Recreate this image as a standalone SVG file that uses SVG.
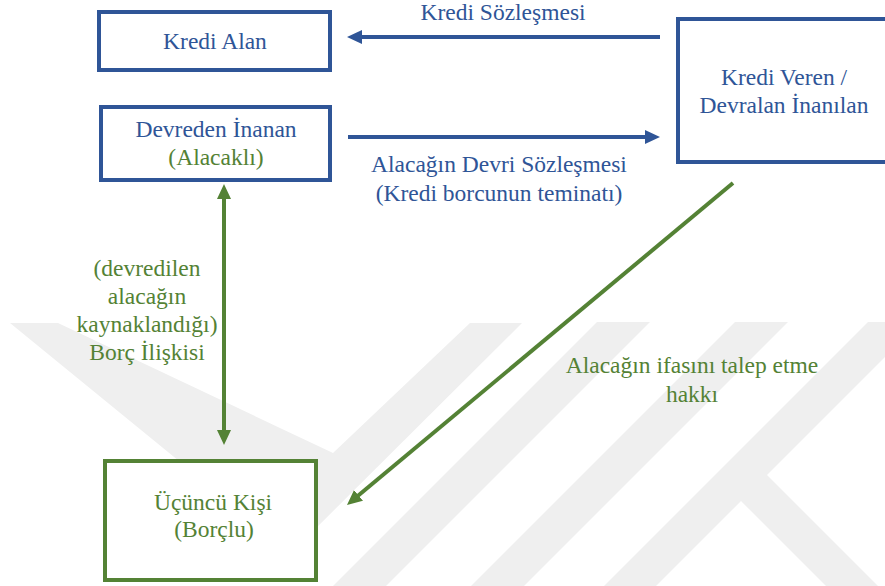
<svg xmlns="http://www.w3.org/2000/svg" width="885" height="586" viewBox="0 0 885 586">
<style>
.wm{fill:#efefef}
.box{fill:#ffffff;stroke-width:4}
.blue{stroke:#2F5597}
.green{stroke:#548235}
text{font-family:'Liberation Serif','Times New Roman','DejaVu Serif',serif;font-size:23.5px;text-anchor:middle}
.tb{fill:#2F5597}
.tg{fill:#548235}
.c{fill:none;stroke-width:4}
</style>
<defs>
<marker id="ab" markerUnits="userSpaceOnUse" markerWidth="16" markerHeight="16" refX="3" refY="7" orient="auto-start-reverse"><path d="M0,0 L15,7 L0,14 z" fill="#2F5597"/></marker>
<marker id="ag" markerUnits="userSpaceOnUse" markerWidth="16" markerHeight="16" refX="3" refY="7" orient="auto-start-reverse"><path d="M0,0 L15,7 L0,14 z" fill="#548235"/></marker>
</defs>
<rect width="885" height="586" fill="#ffffff"/>
<g id="watermark">
<polygon class="wm" points="10,323 58,323 333,453 470,323 522,323 291,553 190,470"/>
<polygon class="wm" points="597,322 650,322 386,586 333,586"/>
<polygon class="wm" points="735,322 788,322 524,586 471,586"/>
<polygon class="wm" points="868,322 885,322 885,357 767,475 885,593 885,586 826,586 741,501 656,586 604,586"/>
</g>
<g id="connectors" font-family="Liberation Serif, serif">
<line class="c blue" x1="660" y1="37" x2="359" y2="37" marker-end="url(#ab)"/>
<line class="c blue" x1="348" y1="137" x2="648" y2="137" marker-end="url(#ab)"/>
<line class="c green" x1="224" y1="196" x2="224" y2="433" marker-start="url(#ag)" marker-end="url(#ag)"/>
<line class="c green" x1="733" y1="183" x2="356.2" y2="497.3" marker-end="url(#ag)"/>
<text class="tb" x="503" y="20">Kredi Sözleşmesi</text>
<text class="tb" x="499" y="172">Alacağın Devri Sözleşmesi</text>
<text class="tb" x="499" y="201">(Kredi borcunun teminatı)</text>
<text class="tg" x="147" y="276">(devredilen</text>
<text class="tg" x="147" y="304">alacağın</text>
<text class="tg" x="147" y="332">kaynaklandığı)</text>
<text class="tg" x="147" y="360">Borç İlişkisi</text>
<text class="tg" x="692" y="373">Alacağın ifasını talep etme</text>
<text class="tg" x="692" y="402">hakkı</text>
</g>
<g id="kredi-alan">
<rect class="box blue" x="99" y="12" width="231" height="58"/>
<text class="tb" x="215" y="49">Kredi Alan</text>
</g>
<g id="devreden-inanan">
<rect class="box blue" x="101" y="107" width="229" height="73"/>
<text class="tb" x="216" y="137">Devreden İnanan</text>
<text class="tg" x="216" y="165">(Alacaklı)</text>
</g>
<g id="kredi-veren">
<rect class="box blue" x="678" y="19" width="215" height="143"/>
<text class="tb" x="784" y="85">Kredi Veren /</text>
<text class="tb" x="784" y="113">Devralan İnanılan</text>
</g>
<g id="ucuncu-kisi">
<rect class="box green" x="105" y="461" width="211" height="119"/>
<text class="tg" x="213" y="510">Üçüncü Kişi</text>
<text class="tg" x="214" y="537">(Borçlu)</text>
</g>
</svg>
